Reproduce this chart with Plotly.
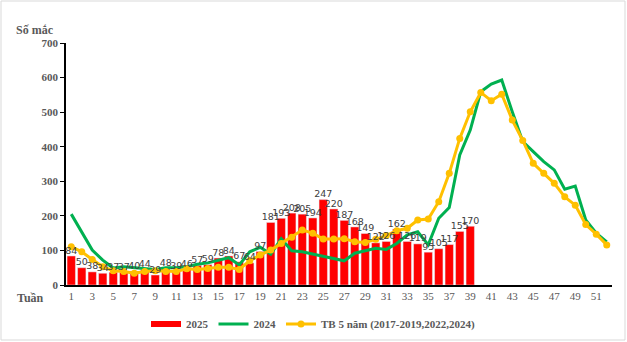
import plotly.graph_objects as go

weeks = list(range(1, 53))
bar_weeks = list(range(1, 40))
cases_2025 = [84, 50, 38, 34, 37, 37, 40, 44, 29, 48, 39, 46, 57, 59, 78, 84, 67, 64, 97,
              181, 193, 208, 205, 194, 247, 220, 187, 168, 149, 122, 126, 162, 126, 119,
              95, 105, 117, 155, 170]
cases_2024 = [205, 154, 101, 72, 49, 53, 50, 48, 45, 50, 50, 53, 60, 64, 72, 79, 58, 96,
              109, 89, 134, 99, 96, 90, 84, 77, 70, 92, 98, 106, 103, 120, 145, 154,
              116, 193, 224, 376, 448, 559, 581, 593, 501, 415, 386, 357, 333, 277, 286,
              188, 150, 125]
avg_5y = [111, 96, 74, 53, 41, 39, 34, 39, 41, 39, 39, 47, 45, 48, 51, 51, 45, 70, 87,
          101, 120, 138, 159, 150, 133, 133, 134, 125, 123, 132, 143, 157, 164, 188, 191,
          241, 323, 424, 501, 557, 533, 552, 477, 418, 352, 323, 294, 255, 231, 175, 147, 116]
x_ticks = list(range(1, 53, 2))
y_ticks = [0, 100, 200, 300, 400, 500, 600, 700]

serif = "Liberation Serif"
grey = "#595959"

fig = go.Figure()
fig.add_trace(go.Bar(
    x=bar_weeks, y=cases_2025, name="2025", marker_color="#FF0000", width=0.8,
    showlegend=False,
))
# legend entry drawn as a thick red line, like the reference
fig.add_trace(go.Scatter(
    x=[None], y=[None], name="2025", mode="lines",
    line=dict(color="#FF0000", width=6),
))
fig.add_trace(go.Scatter(
    x=weeks, y=cases_2024, name="2024", mode="lines",
    line=dict(color="#00B050", width=3),
))
fig.add_trace(go.Scatter(
    x=weeks, y=avg_5y, name="TB 5 năm (2017-2019,2022,2024)", mode="lines+markers",
    line=dict(color="#FFC000", width=3), marker=dict(color="#FFC000", size=7),
))
# bar value labels drawn on top of the lines
fig.add_trace(go.Scatter(
    x=bar_weeks, y=cases_2025, mode="text", text=[str(v) for v in cases_2025],
    textposition="top center", showlegend=False, cliponaxis=False,
    textfont=dict(family="DejaVu Sans", size=9.5, color="#404040"),
))

fig.update_layout(
    width=627, height=342,
    margin=dict(l=66, r=15, t=43, b=57, autoexpand=False),
    plot_bgcolor="white", paper_bgcolor="white",
    showlegend=True, bargap=0.2,
    legend=dict(orientation="h", x=0.5, xanchor="center", xref="container",
                y=1 - 324 / 342, yanchor="middle", yref="container",
                font=dict(family=serif, size=11, color=grey, weight="bold"),
                itemwidth=30, traceorder="normal", tracegroupgap=0),
    xaxis=dict(range=[0.5, 52.5], tickmode="array", tickvals=x_ticks,
               ticktext=[str(t) for t in x_ticks], showline=True, linecolor="black",
               linewidth=1.5, showgrid=False, zeroline=False, ticks="",
               tickfont=dict(family=serif, size=11, color=grey)),
    yaxis=dict(range=[0, 700], tickmode="array", tickvals=y_ticks,
               ticktext=["<b>%d</b>" % t for t in y_ticks], showline=True,
               linecolor="black", linewidth=1.5, showgrid=False, zeroline=False,
               ticks="outside", ticklen=4, tickcolor="black",
               tickfont=dict(family=serif, size=11, color=grey)),
    annotations=[
        dict(text="<b>Số mắc</b>", xref="paper", yref="paper",
             x=(35 - 66) / 546, y=(285 - 30) / 242, xanchor="center", yanchor="middle",
             showarrow=False, font=dict(family=serif, size=12, color=grey)),
        dict(text="<b>Tuần</b>", xref="paper", yref="paper",
             x=(30 - 66) / 546, y=(285 - 298) / 242, xanchor="center", yanchor="middle",
             showarrow=False, font=dict(family=serif, size=12, color=grey)),
    ],
    shapes=[dict(type="rect", xref="paper", yref="paper",
                 x0=(1 - 66) / 546, x1=(625 - 66) / 546,
                 y0=(285 - 340) / 242, y1=(285 - 1) / 242,
                 line=dict(color="#D9D9D9", width=1), layer="below")],
)

fig.write_html("out.html")
